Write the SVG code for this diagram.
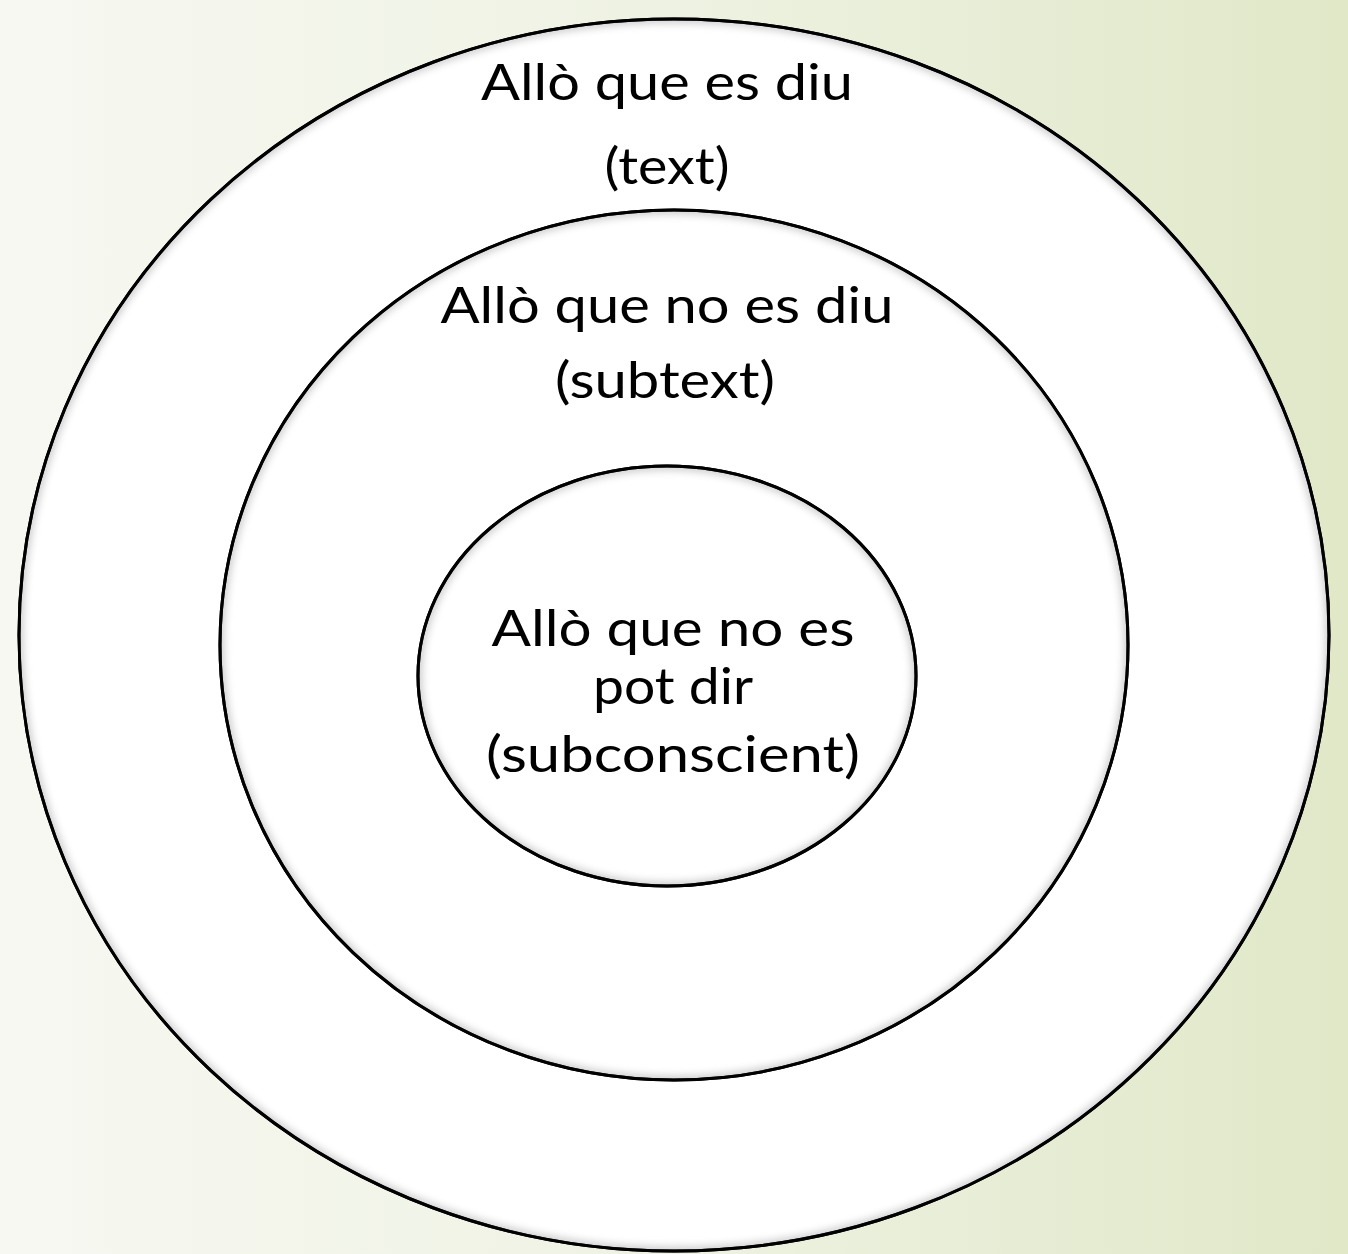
<svg xmlns="http://www.w3.org/2000/svg" width="1348" height="1254" viewBox="0 0 1348 1254">
<defs>
<linearGradient id="bg" x1="0" y1="0" x2="1" y2="0">
<stop offset="0" stop-color="#f7f8f2"/>
<stop offset="0.5" stop-color="#eef2e2"/>
<stop offset="1" stop-color="#e0e8c8"/>
</linearGradient>
<filter id="blur" x="-10%" y="-10%" width="120%" height="120%"><feGaussianBlur stdDeviation="4"/></filter>
<clipPath id="c1"><ellipse cx="674" cy="635" rx="655" ry="616"/></clipPath>
<clipPath id="c2"><ellipse cx="674" cy="645" rx="454" ry="435"/></clipPath>
<clipPath id="c3"><ellipse cx="667" cy="676" rx="249" ry="210"/></clipPath>
</defs>
<style>
.ring{fill:#ffffff;stroke:#000;stroke-width:3}
.sh{fill:none;stroke:#888;stroke-width:6;opacity:0.6}
.t{font-family:"Century Gothic","Lato","Liberation Sans",sans-serif;font-size:50px;font-weight:400;fill:#000;text-anchor:middle}
</style>
<rect width="1348" height="1254" fill="url(#bg)"/>
<g id="outer">
<ellipse class="ring" cx="674" cy="635" rx="655" ry="616"/>
<g clip-path="url(#c1)"><ellipse class="sh" cx="674" cy="635" rx="655" ry="616" filter="url(#blur)"/></g>
<ellipse cx="674" cy="635" rx="655" ry="616" fill="none" stroke="#000" stroke-width="3"/>
<text class="t" x="667" y="100" textLength="372" lengthAdjust="spacingAndGlyphs">Allò que es diu</text>
<text class="t" x="667" y="184" textLength="125" lengthAdjust="spacingAndGlyphs">(text)</text>
</g>
<g id="middle">
<ellipse class="ring" cx="674" cy="645" rx="454" ry="435"/>
<g clip-path="url(#c2)"><ellipse class="sh" cx="674" cy="645" rx="454" ry="435" filter="url(#blur)"/></g>
<ellipse cx="674" cy="645" rx="454" ry="435" fill="none" stroke="#000" stroke-width="3"/>
<text class="t" x="667" y="323" textLength="453" lengthAdjust="spacingAndGlyphs">Allò que no es diu</text>
<text class="t" x="665" y="398" textLength="220" lengthAdjust="spacingAndGlyphs">(subtext)</text>
</g>
<g id="inner">
<ellipse class="ring" cx="667" cy="676" rx="249" ry="210"/>
<g clip-path="url(#c3)"><ellipse class="sh" cx="667" cy="676" rx="249" ry="210" filter="url(#blur)"/></g>
<ellipse cx="667" cy="676" rx="249" ry="210" fill="none" stroke="#000" stroke-width="3"/>
<text class="t" x="673" y="646" textLength="363" lengthAdjust="spacingAndGlyphs">Allò que no es</text>
<text class="t" x="673" y="704" textLength="160" lengthAdjust="spacingAndGlyphs">pot dir</text>
<text class="t" x="673" y="772" textLength="374" lengthAdjust="spacingAndGlyphs">(subconscient)</text>
</g>
<g id="connectors"/>
</svg>
